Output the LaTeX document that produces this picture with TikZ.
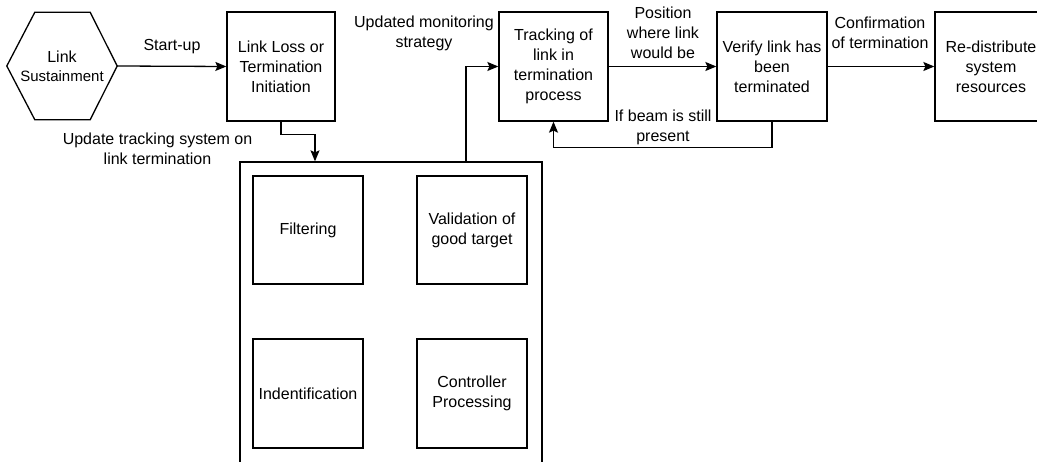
\documentclass[tikz,border=0pt]{standalone}
\usepackage{fontspec}
\setmainfont{Liberation Sans}
\usetikzlibrary{arrows.meta,shapes.geometric,calc}
\begin{document}
\begin{tikzpicture}[x=1pt,y=-1pt,
  txt/.style={font=\fontsize{16}{20}\selectfont, align=center, inner sep=0pt},
  box/.style={draw, line width=1.3pt, rectangle, txt, minimum width=#1, minimum height=109pt},
  box/.default=109pt,
  arr/.style={line width=1.3pt, -{Stealth[length=11pt,width=9pt,inset=2pt]}},
  lnk/.style={line width=1.3pt}]
\useasboundingbox (0,0) rectangle (1037,462);
% hexagon
\node[txt, minimum width=110pt, minimum height=107pt] (hex) at (62,66) {Link\\[-1pt]{\fontsize{15}{18}\selectfont Sustainment}};
\draw[lnk] (hex.west) -- ($(hex.north west)+(28,0)$) -- ($(hex.north east)+(-27,0)$) -- (hex.east)
  -- ($(hex.south east)+(-27,0)$) -- ($(hex.south west)+(28,0)$) -- cycle;
% main boxes
\node[box=108pt] (ll) at (281,66.5) {Link Loss or\\Termination\\Initiation};
\node[box=109pt] (tr) at (553.5,66.5) {Tracking of\\link in\\termination\\process};
\node[box=110pt] (vf) at (772,66.5) {Verify link has\\been\\terminated};
\node[box=112pt] (rd) at (991,66.5) {Re-distribute\\system\\resources};
% big container
\node[draw, line width=1.3pt, minimum width=302pt, minimum height=313pt, inner sep=0pt] (big) at (391,318.5) {};
\node[box=110pt, minimum height=108pt] (fl) at (308,230) {Filtering};
\node[box=110pt, minimum height=108pt] (vd) at (472,230) {Validation of\\good target};
\node[box=110pt] (id) at (308,393.5) {Indentification};
\node[box=110pt] (cp) at (472,393.5) {Controller\\Processing};
% connectors
\draw[arr] (hex.east) -- (ll.west);
\draw[arr] (ll.south) -- ++(0,13) -| ([xshift=-76pt]big.north);
\draw[arr] ([xshift=75pt]big.north) |- (tr.west);
\draw[arr] (tr.east) -- (vf.west);
\draw[arr] (vf.east) -- (rd.west);
\draw[arr] (vf.south) -- ++(0,26) -| (tr.south);
% labels
\node[txt] (l1) at (172,47) {Start-up};
\node[txt] (l2) at (424,33) {Updated monitoring\\strategy};
\node[txt] (l3) at (157.5,149) {Update tracking system on\\link termination};
\node[txt] (l4) at (663,32.5) {Position\\where link\\would be};
\node[txt] (l5) at (663,127.5) {If beam is still\\present};
\node[txt] (l6) at (880,33) {Confirmation\\of termination};
\end{tikzpicture}
\end{document}
